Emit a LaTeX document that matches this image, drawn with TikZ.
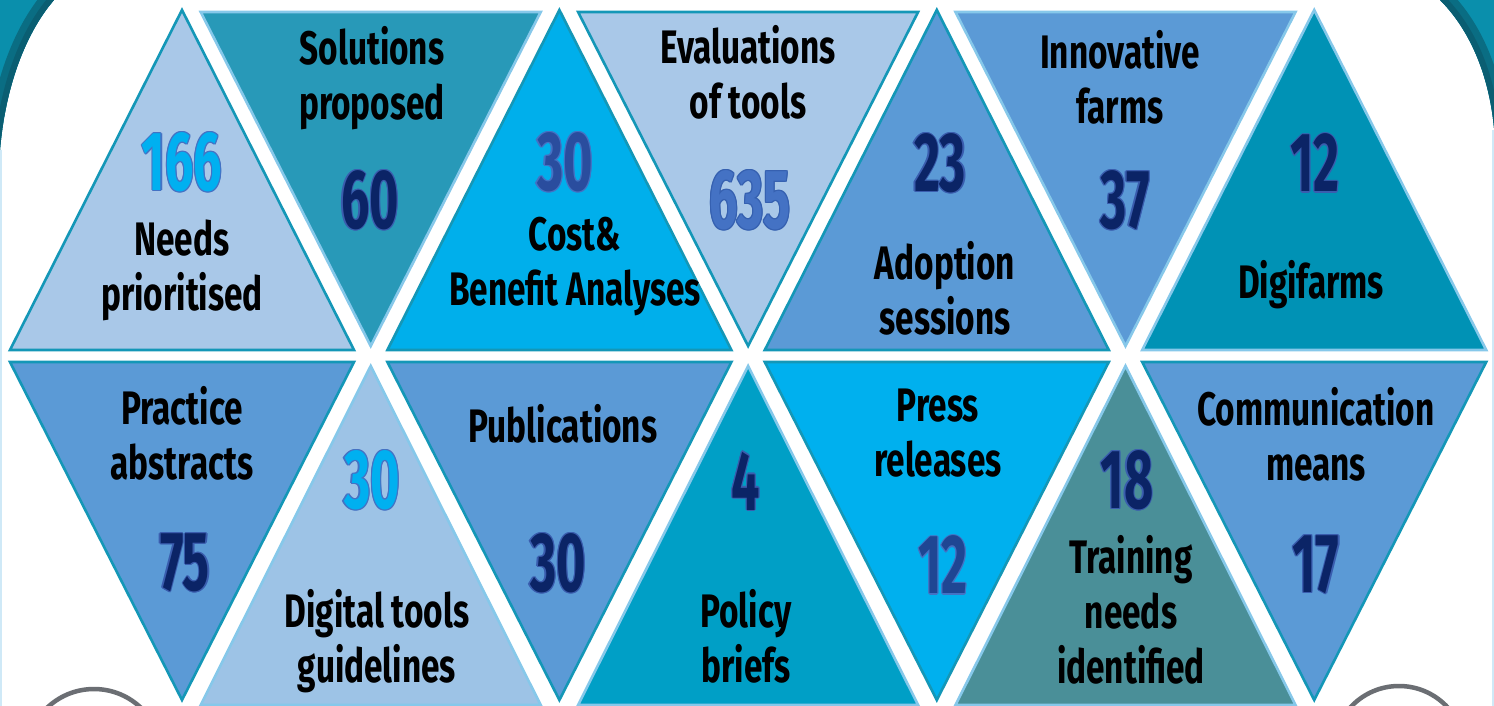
\documentclass[tikz,border=0pt]{standalone}
\usepackage{fontspec}
\setmainfont{Fira Sans}
\newfontfamily\labfont[FakeStretch=0.71]{Fira Sans}
\newfontfamily\numfont[FakeStretch=0.6]{Fira Sans}
\definecolor{cornerteal}{HTML}{0A8FAC}
\definecolor{cornerdark}{HTML}{0A5E72}
\definecolor{edgeteal}{HTML}{1497B7}
\definecolor{edgelight}{HTML}{86C8EA}
\definecolor{fLight}{HTML}{A9C8E8}
\definecolor{fLight2}{HTML}{9DC3E6}
\definecolor{fTeal}{HTML}{2899B8}
\definecolor{fCyan}{HTML}{00AFEB}
\definecolor{fMid}{HTML}{5B9AD6}
\definecolor{fDeep}{HTML}{0092B5}
\definecolor{fPolicy}{HTML}{009FC6}
\definecolor{fPress}{HTML}{00B0EE}
\definecolor{fTrain}{HTML}{4A8F98}
\definecolor{nNavy}{HTML}{0B2466}
\definecolor{nNavyO}{HTML}{3A5DAE}
\definecolor{nBright}{HTML}{00B0F0}
\definecolor{nBrightO}{HTML}{4472C4}
\definecolor{nMid}{HTML}{2A4D9E}
\definecolor{n635}{HTML}{4472C4}
\definecolor{n635O}{HTML}{3560B0}
\definecolor{nPress}{HTML}{1F4693}
\definecolor{ringgrey}{HTML}{6B6E73}
\newcommand\olnum[3]{\leavevmode
  \rlap{\kern1.2pt\textcolor{#1}{#3}}%
  \rlap{\kern-1.2pt\textcolor{#1}{#3}}%
  \rlap{\raisebox{1.2pt}{\textcolor{#1}{#3}}}%
  \rlap{\raisebox{-1.2pt}{\textcolor{#1}{#3}}}%
  \rlap{\kern0.85pt\raisebox{0.85pt}{\textcolor{#1}{#3}}}%
  \rlap{\kern-0.85pt\raisebox{0.85pt}{\textcolor{#1}{#3}}}%
  \rlap{\kern0.85pt\raisebox{-0.85pt}{\textcolor{#1}{#3}}}%
  \rlap{\kern-0.85pt\raisebox{-0.85pt}{\textcolor{#1}{#3}}}%
  \textcolor{#2}{#3}}
\tikzset{
  lab/.style={font=\labfont\bfseries\fontsize{47}{55}\selectfont, align=center, text=black, inner sep=0pt},
  num/.style={font=\numfont\bfseries\fontsize{84}{84}\selectfont, inner sep=0pt},
  tri/.style={line width=2.6pt, line join=miter},
  ring/.style={draw=ringgrey, line width=4.5pt}
}
\begin{document}
\begin{tikzpicture}[x=1pt,y=-1pt]
\useasboundingbox (0,0) rectangle (1494,706);
\clip (0,0) rectangle (1494,706);
\fill[white] (0,0) rectangle (1494,706);
% corners
\fill[cornerteal] (0,0) -- (54,0) .. controls (24,35) and (5,90) .. (0,150) -- cycle;
\begin{scope}
  \clip (0,0) -- (54,0) .. controls (24,35) and (5,90) .. (0,150) -- cycle;
  \draw[cornerdark!70!cornerteal, line width=26pt] (54,0) .. controls (24,35) and (5,90) .. (0,150);
  \draw[cornerdark, line width=12pt] (54,0) .. controls (24,35) and (5,90) .. (0,150);
\end{scope}
\fill[cornerteal] (1440,0) .. controls (1470,30) and (1489,75) .. (1494,128) -- (1494,0) -- cycle;
\begin{scope}
  \clip (1440,0) .. controls (1470,30) and (1489,75) .. (1494,128) -- (1494,0) -- cycle;
  \draw[cornerdark!70!cornerteal, line width=26pt] (1440,0) .. controls (1470,30) and (1489,75) .. (1494,128);
  \draw[cornerdark, line width=12pt] (1440,0) .. controls (1470,30) and (1489,75) .. (1494,128);
\end{scope}
\draw[edgelight!40, line width=2pt] (1,150) -- (1,706);
\draw[edgelight!40, line width=2pt] (1493,130) -- (1493,706);
% rings
\draw[ring] (94,757) circle[radius=68];
\draw[ring] (1399,752) circle[radius=66];
% top row
\filldraw[tri, fill=fLight, draw=edgeteal] (182,10) -- (10,350) -- (354,350) -- cycle;
\filldraw[tri, fill=fTeal, draw=edgelight] (200.7,12) -- (540.7,12) -- (370.7,346) -- cycle;
\filldraw[tri, fill=fCyan, draw=edgeteal] (559.4,10) -- (387.4,350) -- (731.4,350) -- cycle;
\filldraw[tri, fill=fLight, draw=edgeteal] (578.1,12) -- (918.1,12) -- (748.1,346) -- cycle;
\filldraw[tri, fill=fMid, draw=edgeteal] (936.8,10) -- (764.8,350) -- (1108.8,350) -- cycle;
\filldraw[tri, fill=fMid, draw=edgelight] (955.5,12) -- (1295.5,12) -- (1125.5,346) -- cycle;
\filldraw[tri, fill=fDeep, draw=edgelight] (1314.2,10) -- (1142.2,350) -- (1486.2,350) -- cycle;
% bottom row
\filldraw[tri, fill=fMid, draw=edgeteal] (10,362) -- (354,362) -- (182,700) -- cycle;
\filldraw[tri, fill=fLight2, draw=edgelight] (370.7,366) -- (200.7,705) -- (540.7,705) -- cycle;
\filldraw[tri, fill=fMid, draw=edgeteal] (387.4,362) -- (731.4,362) -- (559.4,700) -- cycle;
\filldraw[tri, fill=fPolicy, draw=edgelight] (748.1,366) -- (578.1,705) -- (918.1,705) -- cycle;
\filldraw[tri, fill=fPress, draw=edgeteal] (764.8,362) -- (1108.8,362) -- (936.8,700) -- cycle;
\filldraw[tri, fill=fTrain, draw=edgelight] (1125.5,366) -- (955.5,705) -- (1295.5,705) -- cycle;
\filldraw[tri, fill=fMid, draw=edgeteal] (1142.2,362) -- (1486.2,362) -- (1314.2,700) -- cycle;
% numbers
\node[num] (n1) at (182,162) {\olnum{nBrightO}{nBright}{166}};
\node[num] (n2) at (370,200) {\olnum{nNavyO}{nNavy}{60}};
\node[num] (n3) at (565,162) {\olnum{nBrightO}{nMid}{30}};
\node[num] (n4) at (750,200) {\olnum{n635O}{n635}{635}};
\node[num] (n5) at (940,163) {\olnum{nNavyO}{nNavy}{23}};
\node[num] (n6) at (1125,200) {\olnum{nNavyO}{nNavy}{37}};
\node[num] (n7) at (1315,163) {\olnum{nNavyO}{nNavy}{12}};
\node[num] (n8) at (185,563) {\olnum{nNavyO}{nNavy}{75}};
\node[num] (n9) at (372,480) {\olnum{nBrightO}{nBright}{30}};
\node[num] (n10) at (558,563) {\olnum{nNavyO}{nNavy}{30}};
\node[num] (n11) at (746,481) {\olnum{nNavyO}{nNavy}{4}};
\node[num] (n12) at (943,565) {\olnum{nBrightO}{nPress}{12}};
\node[num] (n13) at (1127,480) {\olnum{nNavyO}{nNavy}{18}};
\node[num] (n14) at (1316,565) {\olnum{nNavyO}{nNavy}{17}};
% labels
\node[lab] (l1) at (182,270) {Needs\\prioritised};
\node[lab] (l2) at (372,78) {Solutions\\proposed};
\node[lab] (l3) at (575,267) {Cost\&\\Benefit Analyses};
\node[lab] (l4) at (748,72) {Evaluations\\of tools};
\node[lab] (l5) at (945,288) {Adoption\\sessions};
\node[lab] (l6) at (1120,77) {Innovative\\farms};
\node[lab] (l7) at (1311,285) {Digifarms};
\node[lab] (l8) at (182,433) {Practice\\abstracts};
\node[lab] (l9) at (377,641) {Digital tools\\guidelines};
\node[lab] (l10) at (563,424) {Publications};
\node[lab] (l11) at (746,636) {Policy\\briefs};
\node[lab] (l12) at (938,433) {Press\\releases};
\node[lab] (l13) at (1131,610) {Training\\needs\\identified};
\node[lab] (l14) at (1316,434) {Communication\\means};
\end{tikzpicture}
\end{document}
